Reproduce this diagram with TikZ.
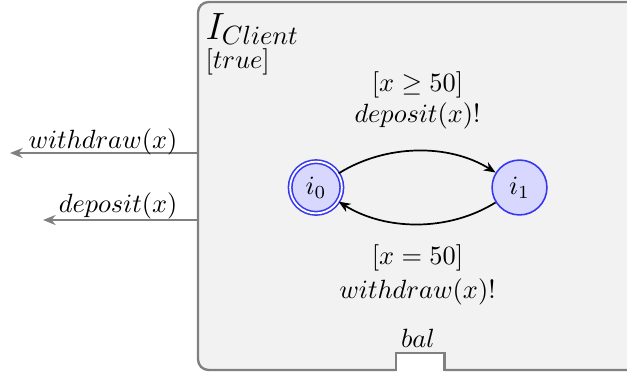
\documentclass[tikz,border=0pt]{standalone}
\usetikzlibrary{arrows.meta}
\definecolor{boxfill}{RGB}{242,242,242}
\definecolor{boxline}{RGB}{128,128,128}
\definecolor{stfill}{RGB}{216,216,255}
\definecolor{stline}{RGB}{55,55,240}
\begin{document}
\begin{tikzpicture}[x=0.379pt,y=0.379pt,
  stnode/.style={circle,draw=stline,fill=stfill,line width=0.6pt,minimum size=20.8pt,inner sep=0pt},
  initst/.style={stnode,double=white,double distance=0.7pt,minimum size=19.6pt},
  edge/.style={-{Stealth[length=4.5pt,width=3.6pt]},line width=0.65pt,black},
  port/.style={-{Stealth[length=4.8pt,width=3.8pt]},line width=1pt,boxline},
  lbl/.style={inner sep=0pt,anchor=base}]
\useasboundingbox (0,0) rectangle (627,373);
\clip (0,0) rectangle (627,373);
% component box
\draw[fill=boxfill,draw=boxline,line width=0.9pt,rounded corners=4pt]
  (660,371) -- (198,371) -- (198,3) -- (660,3);
% bal notch
\fill[white] (396,0) rectangle (444.5,20);
\draw[boxline,line width=0.9pt] (396,2.4) -- (396,20) -- (444.5,20) -- (444.5,2.4);
\node[lbl] (bal) at (418,26) {$bal$};
% title
\node[lbl,anchor=base west] (title) at (205,334) {\Large$I_{Client}$};
\node[lbl,anchor=base west] (inv) at (205,305) {$[true]$};
% states
\node[initst] (i0) at (316,185.5) {$i_0$};
\node[stnode] (i1) at (519.5,185.5) {$i_1$};
% transitions
\draw[edge] (i0) to[out=32,in=148,looseness=0.9] (i1);
\draw[edge] (i1) to[out=-148,in=-32,looseness=0.9] (i0);
\node[lbl] (g1) at (417.5,282) {$[x \geq 50]$};
\node[lbl] (a1) at (417.5,251) {$deposit(x)!$};
\node[lbl] (g2) at (417.5,109) {$[x = 50]$};
\node[lbl] (a2) at (417.5,75) {$withdraw(x)!$};
% ports
\coordinate (wS) at (198,220);
\coordinate (wE) at (10,220);
\coordinate (dS) at (198,153);
\coordinate (dE) at (43,153);
\draw[port] (wS) -- (wE);
\draw[port] (dS) -- (dE);
\node[lbl,anchor=base east] (wl) at (178,225) {$withdraw(x)$};
\node[lbl,anchor=base east] (dl) at (178,161) {$deposit(x)$};
\end{tikzpicture}
\end{document}
